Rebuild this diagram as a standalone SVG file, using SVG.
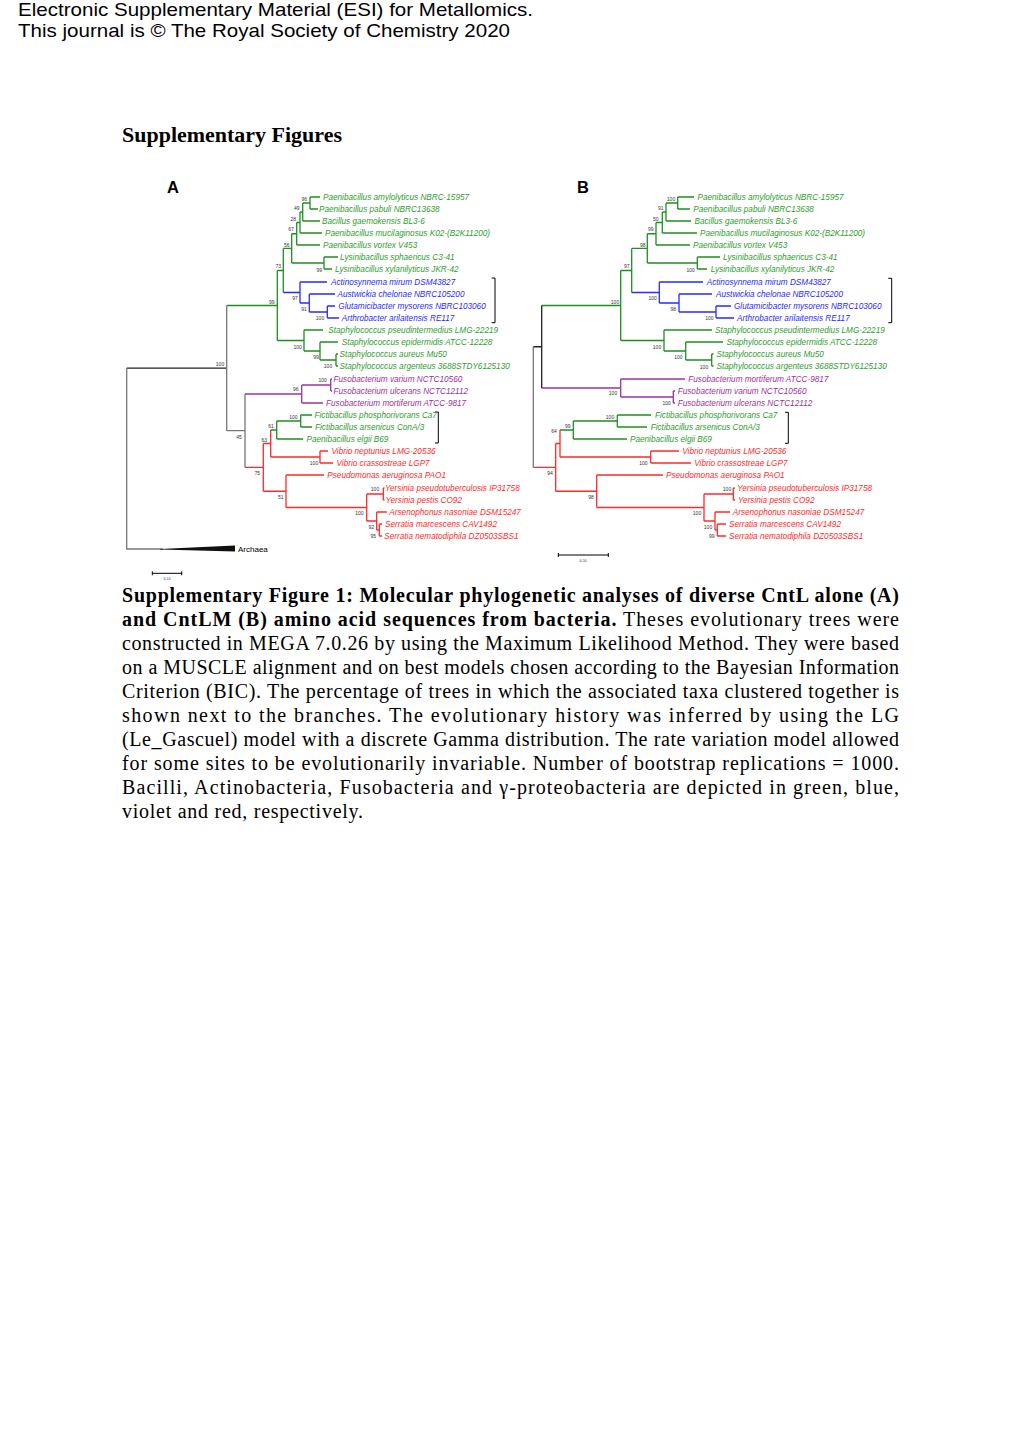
<svg xmlns="http://www.w3.org/2000/svg" width="1020" height="1441" viewBox="0 0 1020 1441">
<style>
.hdr{font-family:"Liberation Sans",Arial,sans-serif;font-size:19px;fill:#000}
.ttl{font-family:"Liberation Serif","Times New Roman",serif;font-size:20px;font-weight:bold;fill:#000}
.cap{font-family:"Liberation Serif","Times New Roman",serif;font-size:20px;fill:#000}
.cap .bd{font-weight:bold}
.pl{font-family:"Liberation Sans",Arial,sans-serif;font-size:16.5px;font-weight:bold;fill:#000}
.tip{font-family:"Liberation Sans",Arial,sans-serif;font-size:8.2px;font-style:italic}
.g{fill:#2e9e2e}.b{fill:#2a2aff}.v{fill:#a030a0}.r{fill:#ff2a2a}
.bs{font-family:"Liberation Sans",Arial,sans-serif;font-size:5px;fill:#333;text-anchor:middle}
.br{fill:none;stroke-width:1.3}
.sg{stroke:#1f8f1f}.sb{stroke:#2a2aff}.sv{stroke:#a030a0}.sr{stroke:#ff2a2a}.sk{stroke:#222}.sy{stroke:#777}
.brk{fill:none;stroke:#000;stroke-width:1}
</style>
<rect width="1020" height="1441" fill="#fff"/>

<g id="header">
<text class="hdr" x="18" y="16" textLength="515" lengthAdjust="spacingAndGlyphs">Electronic Supplementary Material (ESI) for Metallomics.</text>
<text class="hdr" x="18" y="37" textLength="492" lengthAdjust="spacingAndGlyphs">This journal is © The Royal Society of Chemistry 2020</text>
</g>
<text id="section-title" class="ttl" x="122" y="142" textLength="220" lengthAdjust="spacingAndGlyphs">Supplementary Figures</text>

<text id="labelA" class="pl" x="167" y="193">A</text>
<text id="labelB" class="pl" x="577" y="193">B</text>

<!-- ===== Tree A branches ===== -->
<g id="connectorsA">
<path class="br sg" d="M310,197V209M310,197H320M310,209H318M302.7,203V221M302.7,203H310M302.7,221H320M300,212V233M300,212H302.7M300,233H322M296.7,222.5V245M296.7,222.5H300M296.7,245H320M324,257V269M324,257H338M324,269H332M291.7,233.75V263M291.7,233.75H296.7M291.7,263H324M283.3,248.4V292.5M283.3,248.4H291.7M277.3,270.5V340.5M277.3,270.5H283.3M226.7,305.5H277.3"/>
<path class="br sg" d="M277.3,340.5H304M304,330V351M304,330H323M304,351H320M320,342V360M320,342H338M320,360H336M336,354V366M336,354H338M336,366H338"/>
<path class="br sg" d="M270.7,430H276.7M276.7,421V439M276.7,421H300.7M300.7,415V427M300.7,415H312M300.7,427H312M276.7,439H303"/>
<path class="br sb" d="M283.3,292.5H300M300,282V303M300,282H327M300,303H309.3M309.3,294V312M309.3,294H335M309.3,312H327.3M327.3,306V318M327.3,306H335M327.3,318H339"/>
<path class="br sv" d="M245,394H301.7M301.7,385V403M301.7,385H330.7M330.7,379V391M330.7,379H332M330.7,391H332M301.7,403H323"/>
<path class="br sr" d="M245,467.4H263.3M263.3,443.5V491.25M263.3,443.5H270.7M270.7,430V457M270.7,457H320M320,451V463M320,451H328M320,463H333M263.3,491.25H286M286,475V507.5M286,475H324M286,507.5H366.7M366.7,494V521M366.7,494H383.3M383.3,488V500M383.3,488H384.5M383.3,500H384.5M366.7,521H376.7M376.7,512V530M376.7,512H386.7M376.7,530H379.3M379.3,524V536M379.3,524H382M379.3,536H382"/>
<path class="br sk" d="M126.7,368.1H226.7"/>
<path class="br sy" d="M126.7,368.1V549.5M126.7,549H163M226.7,305.5V430.7M226.7,430.7H245M245,394V467.4"/>
<path d="M160,549L235,545.5L235,551.5L160,549.6Z" fill="#111"/>
<path class="brk" d="M491.7,278H495V322.7H491.7M435,412H438.3V443H435"/>
<path class="brk" d="M152.3,573.3H181.7M152.3,571.3V575.3M181.7,571.3V575.3"/>
</g>

<!-- ===== Tree A bootstrap ===== -->
<g id="bootstrapA" class="bs">
<text x="304.3" y="200.8">96</text>
<text x="296.7" y="210.1">49</text>
<text x="293.3" y="220.8">28</text>
<text x="291" y="231.1">67</text>
<text x="286.7" y="246.8">56</text>
<text x="278.3" y="267.5">73</text>
<text x="319.3" y="271.8">99</text>
<text x="295" y="300.1">97</text>
<text x="304" y="311.1">91</text>
<text x="320" y="319.5">100</text>
<text x="271.7" y="303.5">99</text>
<text x="297.7" y="348.5">100</text>
<text x="316" y="359.1">99</text>
<text x="328" y="368.3">100</text>
<text x="220" y="366.1">100</text>
<text x="322.7" y="381.8">100</text>
<text x="295.7" y="391.1">96</text>
<text x="293.3" y="419.1">100</text>
<text x="271" y="427.8">61</text>
<text x="239" y="438.5">45</text>
<text x="264.3" y="441.8">63</text>
<text x="314" y="465.1">100</text>
<text x="257.3" y="475.1">75</text>
<text x="280.7" y="498.5">51</text>
<text x="375" y="491.1">100</text>
<text x="359.3" y="514.5">100</text>
<text x="371.3" y="528.5">92</text>
<text x="373.3" y="537.8">95</text>
</g>

<!-- ===== Tree A taxa ===== -->
<g id="treeA-taxa" class="tip">
<text id="A1" class="g" x="323" y="200">Paenibacillus amylolyticus NBRC-15957</text>
<text id="A2" class="g" x="319" y="212">Paenibacillus pabuli NBRC13638</text>
<text id="A3" class="g" x="322" y="224">Bacillus gaemokensis BL3-6</text>
<text id="A4" class="g" x="325" y="236">Paenibacillus mucilaginosus K02-(B2K11200)</text>
<text id="A5" class="g" x="323" y="248">Paenibacillus vortex V453</text>
<text id="A6" class="g" x="340" y="260">Lysinibacillus sphaericus C3-41</text>
<text id="A7" class="g" x="335" y="272">Lysinibacillus xylanilyticus JKR-42</text>
<text id="A8" class="b" x="331" y="285">Actinosynnema mirum DSM43827</text>
<text id="A9" class="b" x="337.5" y="297">Austwickia chelonae NBRC105200</text>
<text id="A10" class="b" x="338.3" y="309">Glutamicibacter mysorens NBRC103060</text>
<text id="A11" class="b" x="341.7" y="321">Arthrobacter arilaitensis RE117</text>
<text id="A12" class="g" x="328.3" y="333">Staphylococcus pseudintermedius LMG-22219</text>
<text id="A13" class="g" x="341.7" y="345">Staphylococcus epidermidis ATCC-12228</text>
<text id="A14" class="g" x="339.5" y="357">Staphylococcus aureus Mu50</text>
<text id="A15" class="g" x="339.5" y="369">Staphylococcus argenteus 3688STDY6125130</text>
<text id="A16" class="v" x="333.5" y="382">Fusobacterium varium NCTC10560</text>
<text id="A17" class="v" x="333.5" y="394">Fusobacterium ulcerans NCTC12112</text>
<text id="A18" class="v" x="326" y="406">Fusobacterium mortiferum ATCC-9817</text>
<text id="A19" class="g" x="314.5" y="418">Fictibacillus phosphorivorans Ca7</text>
<text id="A20" class="g" x="315" y="430">Fictibacillus arsenicus ConA/3</text>
<text id="A21" class="g" x="306.5" y="442">Paenibacillus elgii B69</text>
<text id="A22" class="r" x="331.5" y="454">Vibrio neptunius LMG-20536</text>
<text id="A23" class="r" x="336.5" y="466">Vibrio crassostreae LGP7</text>
<text id="A24" class="r" x="327.3" y="478">Pseudomonas aeruginosa PAO1</text>
<text id="A25" class="r" x="385" y="491">Yersinia pseudotuberculosis IP31758</text>
<text id="A26" class="r" x="385.5" y="503">Yersinia pestis CO92</text>
<text id="A27" class="r" x="389.3" y="515">Arsenophonus nasoniae DSM15247</text>
<text id="A28" class="r" x="385" y="527">Serratia marcescens CAV1492</text>
<text id="A29" class="r" x="384.3" y="539">Serratia nematodiphila DZ0503SBS1</text>
<text id="A30" x="238" y="551.5" style="font-style:normal;font-size:8px" fill="#000">Archaea</text>
</g>
<text id="scaleA" x="167" y="579.5" style="font-family:'Liberation Serif',serif;font-size:4px;fill:#333;text-anchor:middle">0.10</text>

<!-- ===== Tree B branches ===== -->
<g id="connectorsB">
<path class="br sg" d="M677.7,197V209M677.7,197H694M677.7,209H690M666,203V221M666,203H677.7M666,221H691M662.3,212V233M662.3,212H666M662.3,233H697M656,222.5V245M656,222.5H662.3M656,245H690M697.3,257V269M697.3,257H720M697.3,269H707M647.3,233.75V263M647.3,233.75H656M647.3,263H697.3M631.7,248.4V292.5M631.7,248.4H647.3M620.7,270.5V340.5M620.7,270.5H631.7M541.7,305.5H620.7"/>
<path class="br sg" d="M620.7,340.5H664M664,330V351M664,330H712M664,351H685.7M685.7,342V360M685.7,342H723M685.7,360H711.7M711.7,354V366M711.7,354H713.5M711.7,366H713.5"/>
<path class="br sg" d="M560,430H573.3M573.3,421V439M573.3,421H617.3M617.3,415V427M617.3,415H651M617.3,427H647M573.3,439H627"/>
<path class="br sb" d="M631.7,292.5H659.3M659.3,282V303M659.3,282H703M659.3,303H679M679,294V312M679,294H712M679,312H716M716,306V318M716,306H731M716,318H734"/>
<path class="br sv" d="M541.7,388H620.7M620.7,379V397M620.7,379H685M620.7,397H673.3M673.3,391V403M673.3,391H675M673.3,403H675"/>
<path class="br sr" d="M533.3,467.4H555.7M555.7,443.5V491.25M555.7,443.5H560M560,430V457M560,457H650.7M650.7,451V463M650.7,451H679M650.7,463H691M555.7,491.25H596.7M596.7,475V507.5M596.7,475H663M596.7,507.5H704M704,494V521M704,494H733.3M733.3,488V500M733.3,488H735M733.3,500H735M704,521H715M715,512V530M715,512H730M715,530H717.3M717.3,524V536M717.3,524H726M717.3,536H726"/>
<path class="br sk" d="M533.3,346.75H541.7M541.7,305.5V388"/>
<path class="br sy" d="M533.3,346.75V467.4"/>
<path class="brk" d="M888.3,278.3H891.7V322.7H888.3M785,412.3H788.3V443.3H785"/>
<path class="brk" d="M558.3,555H608.3M558.3,553V557M608.3,553V557"/>
</g>

<!-- ===== Tree B bootstrap ===== -->
<g id="bootstrapB" class="bs">
<text x="671" y="200.8">100</text>
<text x="660.7" y="210.1">91</text>
<text x="655.7" y="220.8">50</text>
<text x="650.7" y="231.1">99</text>
<text x="642.7" y="246.8">98</text>
<text x="626.7" y="267.5">97</text>
<text x="690.7" y="271.8">100</text>
<text x="615" y="304.1">100</text>
<text x="652.7" y="300.1">100</text>
<text x="673.3" y="311.1">98</text>
<text x="709.3" y="319.5">100</text>
<text x="657" y="348.5">100</text>
<text x="678.3" y="359.1">100</text>
<text x="704" y="368.5">100</text>
<text x="613" y="395.1">100</text>
<text x="666.7" y="404.5">100</text>
<text x="610" y="419.1">100</text>
<text x="567.7" y="427.8">99</text>
<text x="554" y="432.5">64</text>
<text x="643.3" y="465.1">100</text>
<text x="550" y="475.1">94</text>
<text x="591" y="499.1">98</text>
<text x="727" y="491.1">100</text>
<text x="697" y="514.5">100</text>
<text x="708" y="528.5">100</text>
<text x="711.7" y="537.8">99</text>
</g>

<!-- ===== Tree B taxa ===== -->
<g id="treeB-taxa" class="tip">
<text id="B1" class="g" x="697.5" y="200">Paenibacillus amylolyticus NBRC-15957</text>
<text id="B2" class="g" x="693.3" y="212">Paenibacillus pabuli NBRC13638</text>
<text id="B3" class="g" x="694.5" y="224">Bacillus gaemokensis BL3-6</text>
<text id="B4" class="g" x="700" y="236">Paenibacillus mucilaginosus K02-(B2K11200)</text>
<text id="B5" class="g" x="693" y="248">Paenibacillus vortex V453</text>
<text id="B6" class="g" x="723" y="260">Lysinibacillus sphaericus C3-41</text>
<text id="B7" class="g" x="710.7" y="272">Lysinibacillus xylanilyticus JKR-42</text>
<text id="B8" class="b" x="706.7" y="285">Actinosynnema mirum DSM43827</text>
<text id="B9" class="b" x="716" y="297">Austwickia chelonae NBRC105200</text>
<text id="B10" class="b" x="734" y="309">Glutamicibacter mysorens NBRC103060</text>
<text id="B11" class="b" x="737" y="321">Arthrobacter arilaitensis RE117</text>
<text id="B12" class="g" x="715" y="333">Staphylococcus pseudintermedius LMG-22219</text>
<text id="B13" class="g" x="726.5" y="345">Staphylococcus epidermidis ATCC-12228</text>
<text id="B14" class="g" x="716.5" y="357">Staphylococcus aureus Mu50</text>
<text id="B15" class="g" x="716.5" y="369">Staphylococcus argenteus 3688STDY6125130</text>
<text id="B16" class="v" x="688.3" y="382">Fusobacterium mortiferum ATCC-9817</text>
<text id="B17" class="v" x="677.7" y="394">Fusobacterium varium NCTC10560</text>
<text id="B18" class="v" x="677.7" y="406">Fusobacterium ulcerans NCTC12112</text>
<text id="B19" class="g" x="655" y="418">Fictibacillus phosphorivorans Ca7</text>
<text id="B20" class="g" x="650.7" y="430">Fictibacillus arsenicus ConA/3</text>
<text id="B21" class="g" x="630" y="442">Paenibacillus elgii B69</text>
<text id="B22" class="r" x="682.3" y="454">Vibrio neptunius LMG-20536</text>
<text id="B23" class="r" x="694.3" y="466">Vibrio crassostreae LGP7</text>
<text id="B24" class="r" x="666" y="478">Pseudomonas aeruginosa PAO1</text>
<text id="B25" class="r" x="737.3" y="491">Yersinia pseudotuberculosis IP31758</text>
<text id="B26" class="r" x="738" y="503">Yersinia pestis CO92</text>
<text id="B27" class="r" x="732.7" y="515">Arsenophonus nasoniae DSM15247</text>
<text id="B28" class="r" x="729" y="527">Serratia marcescens CAV1492</text>
<text id="B29" class="r" x="729" y="539">Serratia nematodiphila DZ0503SBS1</text>
</g>
<text id="scaleB" x="583" y="561.5" style="font-family:'Liberation Serif',serif;font-size:4px;fill:#333;text-anchor:middle">0.50</text>

<!-- ===== Caption ===== -->
<g id="caption" class="cap">
<text x="122" y="602" textLength="777" lengthAdjust="spacing"><tspan class="bd">Supplementary Figure 1: Molecular phylogenetic analyses of diverse CntL alone (A)</tspan></text>
<text x="122" y="626" textLength="777" lengthAdjust="spacing"><tspan class="bd">and CntLM (B) amino acid sequences from bacteria.</tspan> Theses evolutionary trees were</text>
<text x="122" y="650" textLength="777" lengthAdjust="spacing">constructed in MEGA 7.0.26 by using the Maximum Likelihood Method. They were based</text>
<text x="122" y="674" textLength="777" lengthAdjust="spacing">on a MUSCLE alignment and on best models chosen according to the Bayesian Information</text>
<text x="122" y="698" textLength="777" lengthAdjust="spacing">Criterion (BIC). The percentage of trees in which the associated taxa clustered together is</text>
<text x="122" y="722" textLength="777" lengthAdjust="spacing">shown next to the branches. The evolutionary history was inferred by using the LG</text>
<text x="122" y="746" textLength="777" lengthAdjust="spacing">(Le_Gascuel) model with a discrete Gamma distribution. The rate variation model allowed</text>
<text x="122" y="770" textLength="777" lengthAdjust="spacing">for some sites to be evolutionarily invariable. Number of bootstrap replications = 1000.</text>
<text x="122" y="794" textLength="777" lengthAdjust="spacing">Bacilli, Actinobacteria, Fusobacteria and γ-proteobacteria are depicted in green, blue,</text>
<text x="122" y="818" textLength="241" lengthAdjust="spacing">violet and red, respectively.</text>
</g>
</svg>
